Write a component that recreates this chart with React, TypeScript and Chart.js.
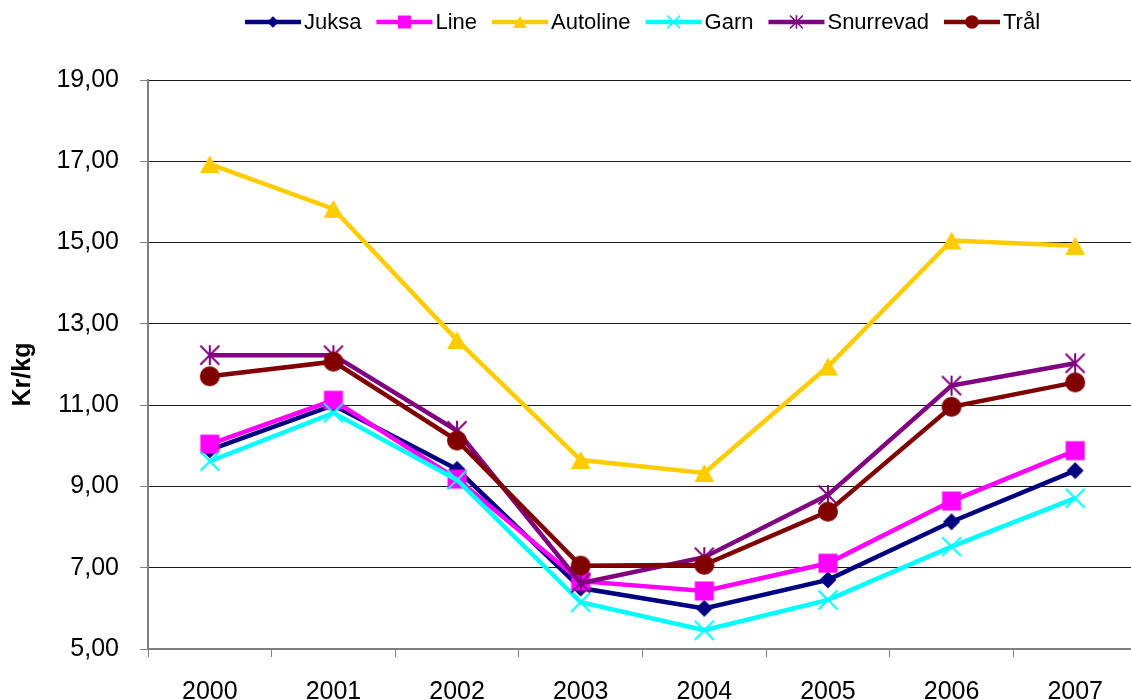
import React, { useEffect, useRef } from 'react';
import { Chart, registerables } from 'chart.js';

Chart.register(...registerables);

const years = ['2000', '2001', '2002', '2003', '2004', '2005', '2006', '2007'];
const juksa = [9.9, 11.0, 9.42, 6.5, 6.0, 6.7, 8.13, 9.39];
const line = [10.04, 11.12, 9.18, 6.67, 6.43, 7.11, 8.64, 9.88];
const autoline = [16.93, 15.83, 12.6, 9.65, 9.33, 11.95, 15.05, 14.92];
const garn = [9.62, 10.81, 9.16, 6.15, 5.46, 6.21, 7.52, 8.71];
const snurrevad = [12.23, 12.23, 10.37, 6.62, 7.26, 8.79, 11.48, 12.03];
const tral = [11.71, 12.07, 10.13, 7.05, 7.07, 8.38, 10.96, 11.56];

const seriesNames = ['Juksa', 'Line', 'Autoline', 'Garn', 'Snurrevad', 'Trål'];
const seriesValues = [juksa, line, autoline, garn, snurrevad, tral];
const seriesColors = ['#000080', '#FF00FF', '#FFCC00', '#00FFFF', '#800080', '#800000'];
const markerKinds = ['diamond', 'square', 'triangle', 'x', 'star', 'circle'];

const yTitle = 'Kr/kg';
const Y_MIN = 5;
const Y_MAX = 19;
const Y_STEP = 2;

const FONT = "'Liberation Sans', Arial, Helvetica, sans-serif";
const W = 1160;
const H = 730;

function drawMarker(ctx: CanvasRenderingContext2D, kind: string, color: string, x: number, y: number, s: number) {
  ctx.save();
  ctx.fillStyle = color;
  ctx.strokeStyle = color;
  ctx.lineWidth = 2 * Math.max(s, 0.75);
  ctx.lineCap = 'butt';
  ctx.beginPath();
  if (kind === 'diamond') {
    const r = 8.5 * s;
    ctx.moveTo(x, y - r);
    ctx.lineTo(x + r, y);
    ctx.lineTo(x, y + r);
    ctx.lineTo(x - r, y);
    ctx.closePath();
    ctx.fill();
  } else if (kind === 'square') {
    const h = 9.5 * s;
    ctx.rect(x - h, y - h, 2 * h, 2 * h);
    ctx.fill();
  } else if (kind === 'triangle') {
    const hw = 10 * s;
    const hh = 9 * s;
    ctx.moveTo(x, y - hh);
    ctx.lineTo(x + hw, y + hh);
    ctx.lineTo(x - hw, y + hh);
    ctx.closePath();
    ctx.fill();
  } else if (kind === 'x') {
    const h = 9.5 * s;
    ctx.moveTo(x - h, y - h);
    ctx.lineTo(x + h, y + h);
    ctx.moveTo(x + h, y - h);
    ctx.lineTo(x - h, y + h);
    ctx.stroke();
  } else if (kind === 'star') {
    const h = 9.5 * s;
    ctx.moveTo(x - h, y - h);
    ctx.lineTo(x + h, y + h);
    ctx.moveTo(x + h, y - h);
    ctx.lineTo(x - h, y + h);
    ctx.moveTo(x, y - h * 1.05);
    ctx.lineTo(x, y + h * 1.05);
    ctx.stroke();
  } else if (kind === 'circle') {
    ctx.arc(x, y, 10 * s, 0, Math.PI * 2);
    ctx.fill();
  }
  ctx.restore();
}

function makeMarkerCanvas(kind: string, color: string, s: number): HTMLCanvasElement {
  const size = 26;
  const c = document.createElement('canvas');
  c.width = size;
  c.height = size;
  const ctx = c.getContext('2d') as CanvasRenderingContext2D;
  drawMarker(ctx, kind, color, size / 2, size / 2, s);
  return c;
}

const legendPlugin = {
  id: 'lineLegend',
  afterDraw(chart: any) {
    const ctx: CanvasRenderingContext2D = chart.ctx;
    const area = chart.chartArea;
    const lineLen = 56;
    const gapText = 3;
    const gapItem = 15;
    ctx.save();
    ctx.font = `22px ${FONT}`;
    const widths = seriesNames.map((n) => lineLen + gapText + ctx.measureText(n).width);
    const total = widths.reduce((a, b) => a + b, 0) + gapItem * (seriesNames.length - 1);
    let x = (area.left + area.right) / 2 - total / 2;
    const y = 22;
    seriesNames.forEach((name, i) => {
      ctx.strokeStyle = seriesColors[i];
      ctx.lineWidth = 4.5;
      ctx.beginPath();
      ctx.moveTo(x, y);
      ctx.lineTo(x + lineLen, y);
      ctx.stroke();
      drawMarker(ctx, markerKinds[i], seriesColors[i], x + lineLen / 2, y, 0.68);
      ctx.fillStyle = '#000';
      ctx.textBaseline = 'middle';
      ctx.textAlign = 'left';
      ctx.fillText(name, x + lineLen + gapText, y + 1);
      x += widths[i] + gapItem;
    });
    ctx.restore();
  },
};

const yTitlePlugin = {
  id: 'yTitle',
  afterDraw(chart: any) {
    const ctx: CanvasRenderingContext2D = chart.ctx;
    const area = chart.chartArea;
    ctx.save();
    ctx.font = `bold 25px ${FONT}`;
    ctx.fillStyle = '#000';
    ctx.textAlign = 'center';
    ctx.textBaseline = 'middle';
    ctx.translate(23, (area.top + area.bottom) / 2 + 10);
    ctx.rotate(-Math.PI / 2);
    ctx.fillText(yTitle, 0, 0);
    ctx.restore();
  },
};

export default function App() {
  const ref = useRef<HTMLCanvasElement | null>(null);

  useEffect(() => {
    if (!ref.current) return;
    const datasets = seriesNames.map((name, i) => ({
      label: name,
      data: seriesValues[i],
      borderColor: seriesColors[i],
      backgroundColor: seriesColors[i],
      borderWidth: 4.5,
      pointStyle: makeMarkerCanvas(markerKinds[i], seriesColors[i], 1),
      pointRadius: 10,
      tension: 0,
      fill: false,
      order: seriesNames.length - i,
    }));
    const chart = new Chart(ref.current, {
      type: 'line',
      data: { labels: years, datasets },
      plugins: [legendPlugin, yTitlePlugin],
      options: {
        responsive: false,
        animation: false,
        devicePixelRatio: 1,
        layout: { padding: { top: 80, right: W - 1137, left: 0, bottom: 0 } },
        plugins: {
          legend: { display: false },
          tooltip: { enabled: false },
        },
        scales: {
          x: {
            type: 'category',
            offset: true,
            grid: {
              offset: true,
              drawOnChartArea: false,
              drawTicks: true,
              tickLength: 8,
              tickColor: '#808080',
              tickWidth: 1,
            },
            border: { color: '#808080', width: 2 },
            ticks: {
              color: '#000',
              font: { size: 25, family: FONT },
              padding: 20,
              maxRotation: 0,
              autoSkip: false,
            },
            afterFit: (s: any) => {
              s.height = H - 649;
            },
          },
          y: {
            min: Y_MIN,
            max: Y_MAX,
            ticks: {
              stepSize: Y_STEP,
              color: '#000',
              font: { size: 25, family: FONT },
              padding: 21,
              callback: (v: any) => Number(v).toFixed(2).replace('.', ','),
            },
            grid: {
              color: '#1a1a1a',
              lineWidth: 1,
              drawTicks: true,
              tickLength: 8,
              tickColor: '#808080',
            },
            border: { color: '#808080', width: 2 },
            title: { display: false },
            afterFit: (s: any) => {
              s.width = 148;
            },
          },
        },
      } as any,
    });
    return () => chart.destroy();
  }, []);

  return (
    <div style={{ position: 'fixed', left: 0, top: 0, width: W, height: H, background: '#fff' }}>
      <canvas ref={ref} width={W} height={H} style={{ display: 'block', width: W, height: H }} />
    </div>
  );
}
